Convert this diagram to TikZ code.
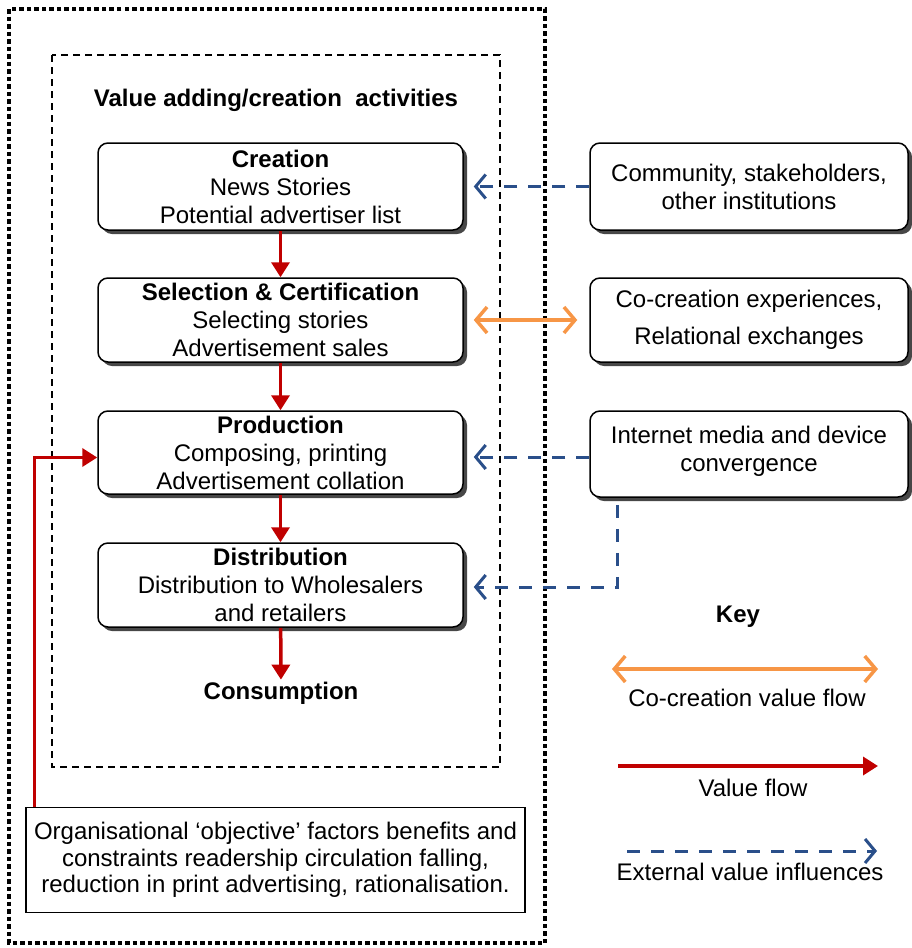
\documentclass[tikz,border=0pt]{standalone}
\usepackage{fontspec}
\setmainfont{Liberation Sans}
\usetikzlibrary{arrows.meta,shadows,calc}
\definecolor{vred}{HTML}{C00000}
\definecolor{vblue}{HTML}{2A4F8A}
\definecolor{vorange}{HTML}{F79646}
\begin{document}
\begin{tikzpicture}[x=1pt,y=-1pt,
  font=\fontsize{24}{28}\selectfont,
  actbox/.style={draw, line width=1.5pt, rounded corners=10pt, fill=white,
    minimum width=365pt, minimum height=85pt, inner sep=0pt, align=center,
    drop shadow={shadow xshift=4pt, shadow yshift=-4pt, fill=black!80, opacity=0.9}},
  extbox/.style={actbox, minimum width=318pt},
  redarr/.style={draw=vred, line width=3.5pt, -{Triangle[length=15pt,width=18pt]}},
  bluearr/.style={draw=vblue, line width=3pt, dash pattern=on 13pt off 11pt,
    -{Straight Barb[length=10pt,width=24pt,line width=3pt]}},
  orangearr/.style={draw=vorange, line width=3.5pt,
    {Straight Barb[length=11pt,width=26pt,line width=3.5pt]}-{Straight Barb[length=11pt,width=26pt,line width=3.5pt]}},
  plain/.style={inner sep=0pt, align=center}
]
\useasboundingbox (0,0) rectangle (911,948);
% frames
\draw[line width=3.5pt, dash pattern=on 4.5pt off 3pt] (9,9) rectangle (545,943);
\draw[line width=1.5pt, dash pattern=on 7pt off 5pt] (52,55) rectangle (500,767);
\node[plain, font=\fontsize{24}{28}\selectfont\bfseries] (title) at (276,100) {Value adding/creation\ \ activities};
% activity boxes
\node[actbox, minimum height=87pt] (creation) at (280.5,186.5) {\textbf{Creation}\\News Stories\\Potential advertiser list};
\node[actbox, minimum height=84pt] (selection) at (280.5,320) {\textbf{Selection \& Certification}\\Selecting stories\\Advertisement sales};
\node[actbox, minimum height=83pt] (production) at (280.5,452.5) {\textbf{Production}\\Composing, printing\\Advertisement collation};
\node[actbox, minimum height=84pt] (distribution) at (280.5,585) {\textbf{Distribution}\\Distribution to Wholesalers\\and retailers};
\node[plain, font=\fontsize{24}{28}\selectfont\bfseries, inner sep=2pt] (consumption) at (281,693) {Consumption};
% external boxes
\node[extbox, minimum height=87pt] (community) at (749,186.5) {Community, stakeholders,\\other institutions};
\node[extbox, minimum height=84pt] (cocreate) at (749,320) {Co-creation experiences,\\[9pt]Relational exchanges};
\node[extbox, minimum height=86pt] (internet) at (749,454) {\raisebox{0pt}[18pt][0pt]{}Internet media and device\\convergence\\[-16pt]};
% objective box
\node[draw, line width=1.5pt, fill=white, minimum width=499pt, minimum height=105pt, inner sep=0pt, align=center,
  font=\fontsize{24}{26.5}\selectfont] (objective) at (275.5,860) {Organisational `objective' factors benefits and\\constraints readership circulation falling,\\reduction in print advertising, rationalisation.};
% value flow arrows
\draw[redarr] (creation) -- (selection);
\draw[redarr] (selection) -- (production);
\draw[redarr] (production) -- (distribution);
\draw[redarr] (distribution) -- (consumption);
\draw[redarr] ([xshift=9pt]objective.north west) |- ([yshift=-5pt]production.west);
% external influences
\coordinate (ce) at ([xshift=10pt]creation.east);
\coordinate (pe) at ([xshift=10pt]production.east);
\coordinate (de) at ([xshift=10pt]distribution.east);
\coordinate (isw) at ([xshift=28pt,yshift=-7pt]internet.south west);
\draw[bluearr] (community.west) -- (ce);
\draw[orangearr] ([xshift=10pt]selection.east) -- ([xshift=-12pt]cocreate.west);
\draw[bluearr] ([yshift=-3pt]internet.west) -- ([yshift=-3pt]internet.west -| pe);
\draw[bluearr] (isw) |- ([yshift=-2pt]de);
% key
\node[plain, font=\fontsize{24}{28}\selectfont\bfseries] (key) at (738,617) {Key};
\coordinate (k1a) at (612,669); \coordinate (k1b) at (878,669);
\coordinate (k2a) at (618,766); \coordinate (k2b) at (878,766);
\coordinate (k3a) at (627,851); \coordinate (k3b) at (877,851);
\draw[orangearr] (k1a) -- (k1b);
\draw[redarr] (k2a) -- (k2b);
\draw[bluearr] (k3a) -- (k3b);
\node[plain] (klab1) at (747,698) {Co-creation value flow};
\node[plain] (klab2) at (753,788) {Value flow};
\node[plain] (klab3) at (750,872) {External value influences};
\end{tikzpicture}
\end{document}
